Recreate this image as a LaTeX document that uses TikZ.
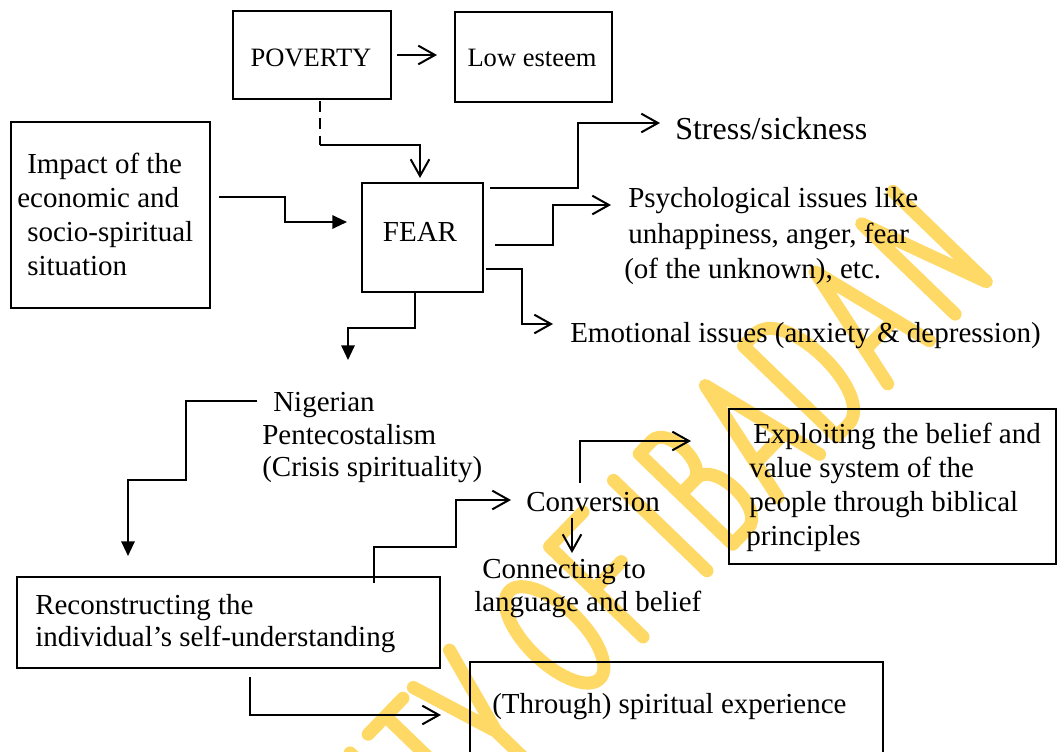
\documentclass[tikz,border=0pt]{standalone}
\usepackage{fontspec}
\setmainfont{Liberation Serif}
\usetikzlibrary{arrows.meta}
\definecolor{wmgold}{RGB}{255,217,102}

\begin{document}
\begin{tikzpicture}[x=0.75pt, y=-0.75pt,
  box/.style={draw, line width=1.2pt, inner sep=0pt},
  lbl/.style={inner sep=0pt, anchor=base west, font=\fontsize{21.75}{25.5}\selectfont},
  conn/.style={line width=1.5pt},
  barb/.style={conn, -{Straight Barb[length=12.5pt, width=14pt, line width=1.5pt]}},
  filltip/.style={conn, -{Triangle[length=11pt, width=10pt]}},
  wm/.style={draw=wmgold, line width=9.75pt, line cap=round, line join=round}
]
\useasboundingbox (0,0) rectangle (1057,751);
\clip (0,0) rectangle (1057,751);

% watermark lettering, set along a rising baseline
\begin{scope}[shift={(650.7,629)}, x={(0.52125pt,0.53925pt)}, y={(-0.53925pt,0.52125pt)}]
  \draw[wm] (-298,0) -- (-298,130);
  \draw[wm] (-272,130) -- (-222,130) (-247,130) -- (-247,0);
  \draw[wm] (-207,130) -- (-181,40) -- (-155,130) (-181,40) -- (-181,0);
  \draw[wm] (-71,65) ellipse [x radius=28, y radius=63];
  \draw[wm] (37,130) -- (-11,130) -- (-11,0) (-11,68) -- (28,68);
  \draw[wm] (81,0) -- (81,130);
  \draw[wm] (118,0) -- (118,130) -- (136,130) .. controls (158,130) and (158,72) .. (136,72) -- (118,72)
            (118,72) -- (140,72) .. controls (166,72) and (166,0) .. (140,0) -- (118,0);
  \draw[wm] (183,0) -- (213,130) -- (243,0) (192,40) -- (234,40);
  \draw[wm] (268,0) -- (268,130) -- (284,130) .. controls (326,130) and (326,0) .. (284,0) -- cycle;
  \draw[wm] (341,0) -- (371,130) -- (401,0) (350,40) -- (392,40);
  \draw[wm] (438,0) -- (438,130) -- (483,0) -- (483,130);
\end{scope}

% boxes
\node[box, minimum width=118.5pt, minimum height=66pt] (pov) at (312,55) {};
\node[box, minimum width=117.75pt, minimum height=67.5pt] (low) at (533.5,57) {};
\node[box, minimum width=149.25pt, minimum height=139.5pt] (imp) at (110.5,215) {};
\node[box, minimum width=90.75pt, minimum height=81.75pt] (fear) at (422.5,237.5) {};
\node[box, minimum width=245.25pt, minimum height=116.25pt] (expl) at (892.5,486.5) {};
\node[box, minimum width=317.25pt, minimum height=68.25pt] (recon) at (228.5,622.5) {};
\node[box, minimum width=309.75pt, minimum height=73.5pt] (thru) at (676.5,711) {};

% texts
\node[lbl, anchor=base, font=\fontsize{19.9}{23}\selectfont] (povT) at (311,66) {POVERTY};
\node[lbl, anchor=base, font=\fontsize{19.9}{23}\selectfont] (lowT) at (532,66) {Low esteem};
\node[lbl, anchor=base] (fearT) at (420,241.5) {FEAR};
\node[lbl] (imp1) at (27,173) {Impact of the};
\node[lbl] (imp2) at (17,207) {economic and};
\node[lbl] (imp3) at (27,241) {socio-spiritual};
\node[lbl] (imp4) at (27,275) {situation};
\node[lbl, font=\fontsize{24}{28}\selectfont] (stress) at (675,139) {Stress/sickness};
\node[lbl] (psy1) at (628,207) {Psychological issues like};
\node[lbl] (psy2) at (628,243) {unhappiness, anger, fear};
\node[lbl] (psy3) at (624,278) {(of the unknown), etc.};
\node[lbl] (emo) at (570,342) {Emotional issues (anxiety \& depression)};
\node[lbl] (nig1) at (273,411) {Nigerian};
\node[lbl] (nig2) at (262,444) {Pentecostalism};
\node[lbl] (nig3) at (262,476) {(Crisis spirituality)};
\node[lbl] (conv) at (526,511) {Conversion};
\node[lbl] (con1) at (482,578) {Connecting to};
\node[lbl] (con2) at (474,611) {language and belief};
\node[lbl] (exp1) at (753,443) {Exploiting the belief and};
\node[lbl] (exp2) at (749,477) {value system of the};
\node[lbl] (exp3) at (749,511) {people through biblical};
\node[lbl] (exp4) at (746,545) {principles};
\node[lbl] (rec1) at (35,614) {Reconstructing the};
\node[lbl] (rec2) at (35,646) {individual’s self-understanding};
\node[lbl] (thruT) at (492,713) {(Through) spiritual experience};

% connector end points
\coordinate (povOut) at (397,55);
\coordinate (lowIn) at (437,55);
\coordinate (povDown) at (320,101);
\coordinate (povBend) at (320,145);
\coordinate (fearTop) at (420,178);
\coordinate (impOut) at (219,197);
\coordinate (fearIn) at (347,222);
\coordinate (fearBot) at (415,292);
\coordinate (nigTip) at (348,360);
\coordinate (fearS) at (490,188);
\coordinate (stressIn) at (660,123);
\coordinate (fearP) at (495,245);
\coordinate (psyIn) at (611,205);
\coordinate (fearE) at (486,269);
\coordinate (emoIn) at (553,324);
\coordinate (nigOut) at (257,401);
\coordinate (recIn) at (128,556);
\coordinate (recUp) at (374,583);
\coordinate (convIn) at (511,500);
\coordinate (convDown) at (572,518);
\coordinate (conIn) at (572,553);
\coordinate (convUp) at (580,483);
\coordinate (explIn) at (691,441);
\coordinate (recDown) at (250,677);
\coordinate (thruIn) at (441,715);

% connectors
\draw[barb] (povOut) -- (lowIn);
\draw[conn, dash pattern=on 8pt off 5pt] (povDown) -- (povBend);
\draw[barb] (povBend) -| (fearTop);
\draw[filltip] (impOut) -- (285,197) |- (fearIn);
\draw[filltip] (fearBot) -- (415,328) -| (nigTip);
\draw[barb] (fearS) -| (578,123) -- (stressIn);
\draw[barb] (fearP) -| (553,205) -- (psyIn);
\draw[barb] (fearE) -| (522,324) -- (emoIn);
\draw[filltip] (nigOut) -| (186,480) -| (recIn);
\draw[barb] (recUp) |- (456,547) |- (convIn);
\draw[barb] (convDown) -- (conIn);
\draw[barb] (convUp) |- (explIn);
\draw[barb] (recDown) |- (thruIn);
\end{tikzpicture}
\end{document}
